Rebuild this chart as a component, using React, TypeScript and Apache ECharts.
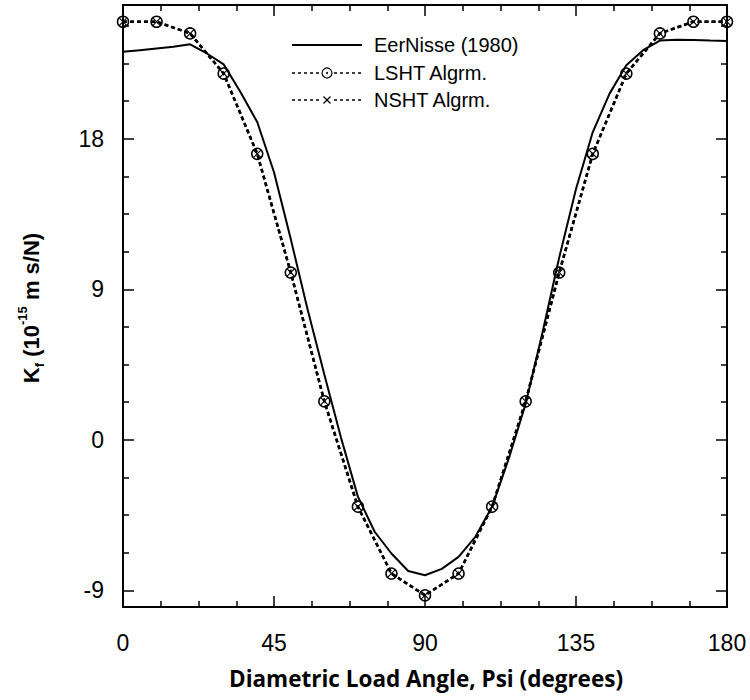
import React, { useEffect, useRef } from "react";
import * as echarts from "echarts";

// ---- data ----
const sampleAngles = [0, 10, 20, 30, 40, 50, 60, 70, 80, 90, 100, 110, 120, 130, 140, 150, 160, 170, 180];
const lshtValues = [25.0, 25.0, 24.3, 21.9, 17.1, 10.0, 2.3, -4.0, -8.0, -9.3, -8.0, -4.0, 2.3, 10.0, 17.1, 21.9, 24.3, 25.0, 25.0];
const nshtValues = [25.0, 25.0, 24.3, 21.9, 17.1, 10.0, 2.3, -4.0, -8.0, -9.3, -8.0, -4.0, 2.3, 10.0, 17.1, 21.9, 24.3, 25.0, 25.0];
const eerAngles = [0, 5, 10, 15, 20, 25, 30, 35, 40, 45, 50, 55, 60, 65, 70, 75, 80, 85, 90, 95, 100, 105, 110, 115, 120, 125, 130, 135, 140, 145, 150, 155, 160, 165, 170, 175, 180];
const eerValues = [23.2, 23.3, 23.4, 23.5, 23.65, 23.1, 22.45, 20.8, 19.0, 16.0, 12.0, 7.8, 3.9, 0.1, -3.4, -5.5, -6.8, -7.85, -8.1, -7.72, -7.0, -5.8, -4.0, -1.1, 2.15, 6.4, 10.9, 15.0, 18.4, 20.7, 22.4, 23.3, 23.87, 23.92, 23.9, 23.87, 23.85];
const xTickValues = [0, 45, 90, 135, 180];
const yMajorTicks = [-9, 0, 9, 18];
const yMinorTicks = [-6.75, -4.5, -2.25, 2.25, 4.5, 6.75, 11.25, 13.5, 15.75, 20.25, 22.5, 24.75];
const seriesNames = ["EerNisse (1980)", "LSHT Algrm.", "NSHT Algrm."];

const X_PATH = "path://M1,0 L5,4 L9,0 L10,1 L6,5 L10,9 L9,10 L5,6 L1,10 L0,9 L4,5 L0,1 Z";
const SANS = "'Liberation Sans', Arial, sans-serif";

export default function App() {
  const ref = useRef<HTMLDivElement>(null);
  useEffect(() => {
    document.body.style.margin = "0";
    const chart = echarts.init(ref.current!, null, { renderer: "svg" });
    const black = "#000";
    const axisLine = { show: true, onZero: false, lineStyle: { color: black, width: 2 } };
    const majorTick = (vals?: number[]) => ({
      show: true, inside: true, length: 11, lineStyle: { color: black, width: 1.5 },
      ...(vals ? { customValues: vals } : {}),
    });
    const minorTickAxis = (vals: number[]) => ({
      show: true, inside: true, length: 6, lineStyle: { color: black, width: 1.5 }, customValues: vals,
    });
    const xBase = {
      type: "value", min: 0, max: 180, interval: 45,
      axisLine, axisTick: majorTick(),
      minorTick: { show: true, splitNumber: 4, length: 6, lineStyle: { color: black, width: 1.5 } },
      splitLine: { show: false }, minorSplitLine: { show: false },
    };
    const yBase = { type: "value", min: -10, max: 26, splitLine: { show: false } };
    const option: any = {
      animation: false,
      backgroundColor: "#fff",
      grid: { left: 123, right: 23, top: 5, bottom: 93 },
      xAxis: [
        {
          ...xBase, position: "bottom",
          axisLabel: { show: true, fontSize: 23, color: black, margin: 24, fontFamily: SANS, customValues: xTickValues },
        },
        { ...xBase, position: "top", axisLabel: { show: false } },
      ],
      yAxis: [
        {
          ...yBase, position: "left", axisLine, axisTick: majorTick(yMajorTicks),
          axisLabel: { show: true, customValues: yMajorTicks, fontSize: 23, color: black, margin: 19, fontFamily: SANS },
        },
        { ...yBase, position: "left", axisLine: { show: false, onZero: false }, axisTick: minorTickAxis(yMinorTicks), axisLabel: { show: false } },
        { ...yBase, position: "right", axisLine, axisTick: majorTick(yMajorTicks), axisLabel: { show: false } },
        { ...yBase, position: "right", axisLine: { show: false, onZero: false }, axisTick: minorTickAxis(yMinorTicks), axisLabel: { show: false } },
      ],
      series: [
        {
          name: seriesNames[0], type: "line", xAxisIndex: 0, yAxisIndex: 0, silent: true, clip: false,
          data: eerAngles.map((a, i) => [a, eerValues[i]]),
          symbol: "none", lineStyle: { color: black, width: 2 },
        },
        {
          name: seriesNames[1], type: "line", xAxisIndex: 0, yAxisIndex: 0, silent: true, clip: false,
          data: sampleAngles.map((a, i) => [a, lshtValues[i]]),
          symbol: "circle", symbolSize: 11, showAllSymbol: true,
          itemStyle: { color: "rgba(255,255,255,0)", borderColor: black, borderWidth: 1.5 },
          lineStyle: { color: black, width: 2.5, type: [4, 3] },
        },
        {
          name: seriesNames[2], type: "line", xAxisIndex: 0, yAxisIndex: 0, silent: true, clip: false,
          data: sampleAngles.map((a, i) => [a, nshtValues[i]]),
          symbol: X_PATH, symbolSize: 8, showAllSymbol: true,
          itemStyle: { color: black },
          lineStyle: { color: black, width: 2.5, type: [4, 3] },
        },
      ],
      graphic: [
        // legend
        { type: "line", shape: { x1: 292, y1: 45, x2: 362, y2: 45 }, style: { stroke: black, lineWidth: 1.8 } },
        { type: "text", x: 374, y: 45, style: { text: seriesNames[0], fontSize: 20, fontFamily: SANS, fill: black, verticalAlign: "middle", align: "left" } },
        { type: "line", shape: { x1: 292, y1: 73, x2: 362, y2: 73 }, style: { stroke: black, lineWidth: 1.3, lineDash: [3, 3] } },
        { type: "circle", shape: { cx: 327, cy: 73, r: 5 }, style: { fill: "#fff", stroke: black, lineWidth: 1.2 } },
        { type: "circle", shape: { cx: 327, cy: 73, r: 1 }, style: { fill: black } },
        { type: "text", x: 374, y: 73, style: { text: seriesNames[1], fontSize: 20, fontFamily: SANS, fill: black, verticalAlign: "middle", align: "left" } },
        { type: "line", shape: { x1: 292, y1: 100, x2: 362, y2: 100 }, style: { stroke: black, lineWidth: 1.3, lineDash: [3, 3] } },
        { type: "rect", shape: { x: 321, y: 95, width: 12, height: 10 }, style: { fill: "#fff" } },
        { type: "line", shape: { x1: 323.5, y1: 96.5, x2: 330.5, y2: 103.5 }, style: { stroke: black, lineWidth: 1.3 } },
        { type: "line", shape: { x1: 330.5, y1: 96.5, x2: 323.5, y2: 103.5 }, style: { stroke: black, lineWidth: 1.3 } },
        { type: "text", x: 374, y: 100, style: { text: seriesNames[2], fontSize: 20, fontFamily: SANS, fill: black, verticalAlign: "middle", align: "left" } },
        // axis titles
        {
          type: "text", x: 426, y: 678,
          style: { text: "Diametric Load Angle, Psi (degrees)", fontSize: 22.5, fontWeight: "bold", fontFamily: "'Open Sans', sans-serif", fill: black, align: "center", verticalAlign: "middle" },
        },
        {
          type: "text", x: 31, y: 308, rotation: Math.PI / 2,
          style: {
            text: "{b|K}{sub|f}{b| (10}{sup|-15}{b| m s/N)}",
            align: "center", verticalAlign: "middle",
            rich: {
              b: { fontSize: 22, fontWeight: "bold", fontFamily: SANS, fill: black, lineHeight: 30 },
              sub: { fontSize: 13, fontWeight: "bold", fontFamily: SANS, fill: black, lineHeight: 14, verticalAlign: "bottom" },
              sup: { fontSize: 13, fontWeight: "bold", fontFamily: SANS, fill: black, lineHeight: 14, verticalAlign: "top" },
            },
          },
        },
      ],
    };
    chart.setOption(option);
    return () => chart.dispose();
  }, []);
  return <div ref={ref} style={{ position: "absolute", left: 0, top: 0, width: 750, height: 700 }} />;
}
